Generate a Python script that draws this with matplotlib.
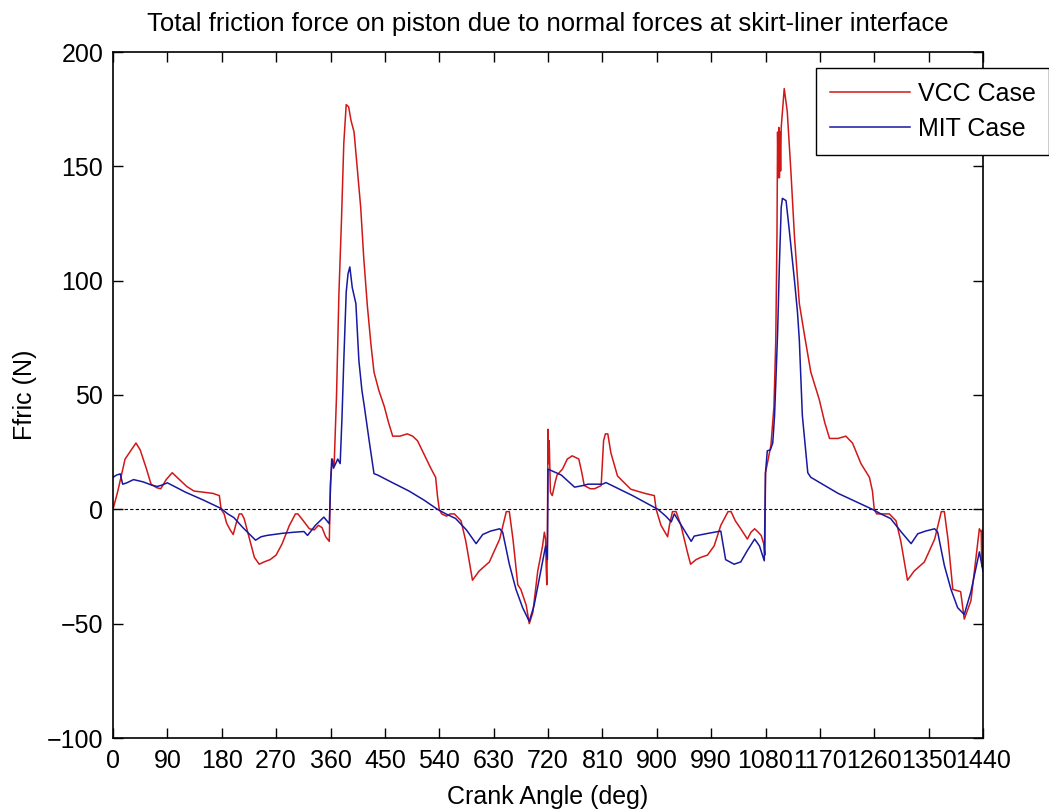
import matplotlib
matplotlib.use("Agg")
import matplotlib.pyplot as plt

# crank angle (deg) / friction force (N), VCC case
crank_vcc = [0, 8, 20, 38, 45, 55, 63, 72, 79, 88, 98, 110, 122, 134, 150, 165, 176, 179,
             184, 188, 194, 199, 204, 209, 213, 217, 225, 234, 242, 250, 260, 270, 280, 292,
             302, 306, 315, 325, 333, 340, 346, 352, 358, 360, 363, 366, 370, 374, 378, 382,
             386, 390, 394, 399, 404, 410, 415, 421, 427, 432, 440, 449, 456, 463, 475, 487,
             496, 504, 515, 526, 534, 537, 540, 544, 552, 558, 565, 576, 584, 595, 606, 623,
             640, 651, 656, 662, 670, 675, 684, 689, 695, 703, 711, 714, 716, 717, 718, 719,
             720, 721, 722, 724, 727, 732, 735, 744, 752, 760, 771, 776, 780, 790, 797, 808,
             812, 815, 819, 824, 835, 857, 880, 896, 899, 907, 918, 921, 926, 932, 940, 951,
             956, 965, 973, 984, 995, 1006, 1018, 1023, 1030, 1039, 1050, 1056, 1062, 1068,
             1073, 1077, 1079, 1080, 1083, 1089, 1094, 1097, 1099, 1100, 1101, 1102, 1103,
             1104, 1105, 1106, 1111, 1116, 1122, 1128, 1136, 1144, 1155, 1169, 1178, 1186,
             1200, 1213, 1224, 1238, 1252, 1257, 1260, 1264, 1285, 1296, 1304, 1315, 1326,
             1343, 1360, 1371, 1376, 1382, 1390, 1403, 1409, 1420, 1434, 1437, 1438, 1439,
             1440]
ffric_vcc = [0, 8, 22, 29, 26, 18, 11, 9.5, 9, 13, 16, 13, 10, 8, 7.5, 7, 6, 0,
             -2, -6, -9, -11, -6, -2, -2, -4, -12, -21, -24, -23, -22, -20, -15, -7,
             -2, -2, -5, -8.5, -9, -7, -8, -12, -14, 12, 22, 19, 50, 95, 125, 160,
             177, 176, 170, 165, 150, 132, 110, 89, 72, 60, 52, 45, 38, 32, 32, 33,
             32, 30, 24, 18, 14, 6, 0, -2, -3, -2, -2, -5, -14, -31, -27, -23,
             -13, -1, -1, -13, -33, -35, -42, -50, -45, -27, -16, -10, -13, -25, -33, -12,
             35, 20, 30, 7.5, 6, 12, 15, 17.6, 22, 23.4, 22, 16, 10.4, 9, 9, 10.4,
             30, 33, 33, 24.8, 14.6, 8.8, 7, 6, 0, -7, -12, -7, -1, -1, -7, -19,
             -24, -22, -21, -20, -16, -7, -1, -1, -5, -8.5, -13, -10, -8.5, -10,
             -11.5, -15, -20, 16, 20, 28, 45, 74, 120, 165, 145, 167, 145,
             165, 148, 167, 184, 174, 148, 119, 90, 77, 60, 48, 38, 31,
             31, 32, 29, 20, 14, 8, 0, -2, -2, -5, -14, -31, -27,
             -23, -13, -1, -1, -13, -35, -36, -48, -40, -8.5, -10, -25, -9,
             -27]

# crank angle (deg) / friction force (N), MIT case
crank_mit = [0, 6, 12, 16, 22, 34, 50, 65, 73, 80, 90, 120, 150, 178, 190, 200, 215, 236,
             245, 255, 280, 300, 316, 322, 335, 349, 354, 358, 360, 362, 365, 372, 376, 379,
             382, 386, 389, 392, 396, 402, 407, 412, 416, 424, 432, 438, 460, 490, 515, 537,
             551, 567, 585, 601, 612, 625, 640, 645, 656, 667, 678, 689, 697, 708, 716, 719,
             720, 725, 742, 764, 778, 786, 810, 816, 860, 902, 915, 924, 929, 943, 957, 962,
             985, 1006, 1014, 1028, 1039, 1050, 1062, 1070, 1078, 1080, 1083, 1088, 1092,
             1095, 1097, 1100, 1103, 1106, 1108, 1114, 1119, 1128, 1133, 1136, 1141, 1150,
             1155, 1200, 1257, 1271, 1287, 1305, 1321, 1332, 1345, 1360, 1365, 1376, 1387,
             1398, 1409, 1420, 1434, 1440]
ffric_mit = [14, 15, 15.5, 11, 11.5, 13, 12, 10.5, 10, 10.5, 11.6, 7.5, 4, 0.5, -2, -3.6, -8, -13.5,
             -12, -11.4, -10.5, -10, -9.7, -11.4, -7, -3.4, -5, -6.3, 10, 22, 18, 22, 20, 40,
             65, 95, 103, 106, 97, 90, 65, 52, 45, 30, 15.6, 15, 12, 8, 4, 0,
             -2, -4, -9, -15, -11, -9.5, -8.5, -10, -24, -35, -43, -49, -42, -27, -16, -22,
             17.6, 17, 15, 9.7, 10.4, 11, 11, 11.7, 6, 0, -3, -5.5, -2, -8, -14, -11.7,
             -10.5, -9.5, -22, -24, -23, -18, -13, -16, -22.5, 16, 25.6, 26, 29,
             41, 55, 77, 107, 132, 136, 135, 123, 100, 86, 74, 41, 16,
             14, 7, 0, -2, -4, -10, -15, -10.7, -9.5, -8.5, -10, -24.5, -35,
             -43, -46, -36, -18.6, -27]

x_ticks = list(range(0, 1441, 90))
y_ticks = [-100, -50, 0, 50, 100, 150, 200]

plt.rcParams['font.family'] = ['Liberation Sans', 'DejaVu Sans']
plt.rcParams['font.size'] = 18

W, H = 1049, 810
fig = plt.figure(figsize=(W / 100, H / 100), dpi=100)
ax = fig.add_axes([113 / W, 1 - 738 / H, 870 / W, 686 / H])

ax.axhline(0, color='k', ls=(0, (3, 2)), lw=0.8)
ax.plot(crank_vcc, ffric_vcc, color='#d01818', lw=1.1, label='VCC Case')
ax.plot(crank_mit, ffric_mit, color='#1818a0', lw=1.1, label='MIT Case')

ax.set_xlim(0, 1440)
ax.set_ylim(-100, 200)
ax.set_xticks(x_ticks)
ax.set_yticks(y_ticks)
ax.tick_params(direction='in', top=True, right=True, length=7, width=1,
               labelsize=18)
ax.tick_params(axis='x', pad=8)
ax.tick_params(axis='y', pad=7)
for s in ax.spines.values():
    s.set_linewidth(1.2)

ax.set_title('Total friction force on piston due to normal forces at skirt-liner interface',
             fontsize=18.5, pad=15)
ax.set_xlabel('Crank Angle (deg)', fontsize=18)
ax.xaxis.set_label_coords(0.5, -0.068)
ax.set_ylabel('Ffric (N)', fontsize=18)
ax.yaxis.set_label_coords(-0.087, 0.5)

leg = ax.legend(loc='upper left', bbox_to_anchor=(816 / W, 1 - 68 / H),
                bbox_transform=fig.transFigure, borderaxespad=0, fontsize=18,
                handlelength=3.2, handletextpad=0.32, borderpad=0.55,
                labelspacing=0.45, fancybox=False, framealpha=1, edgecolor='k')
leg.get_frame().set_linewidth(1.0)

fig.savefig('out.png', dpi=100)
